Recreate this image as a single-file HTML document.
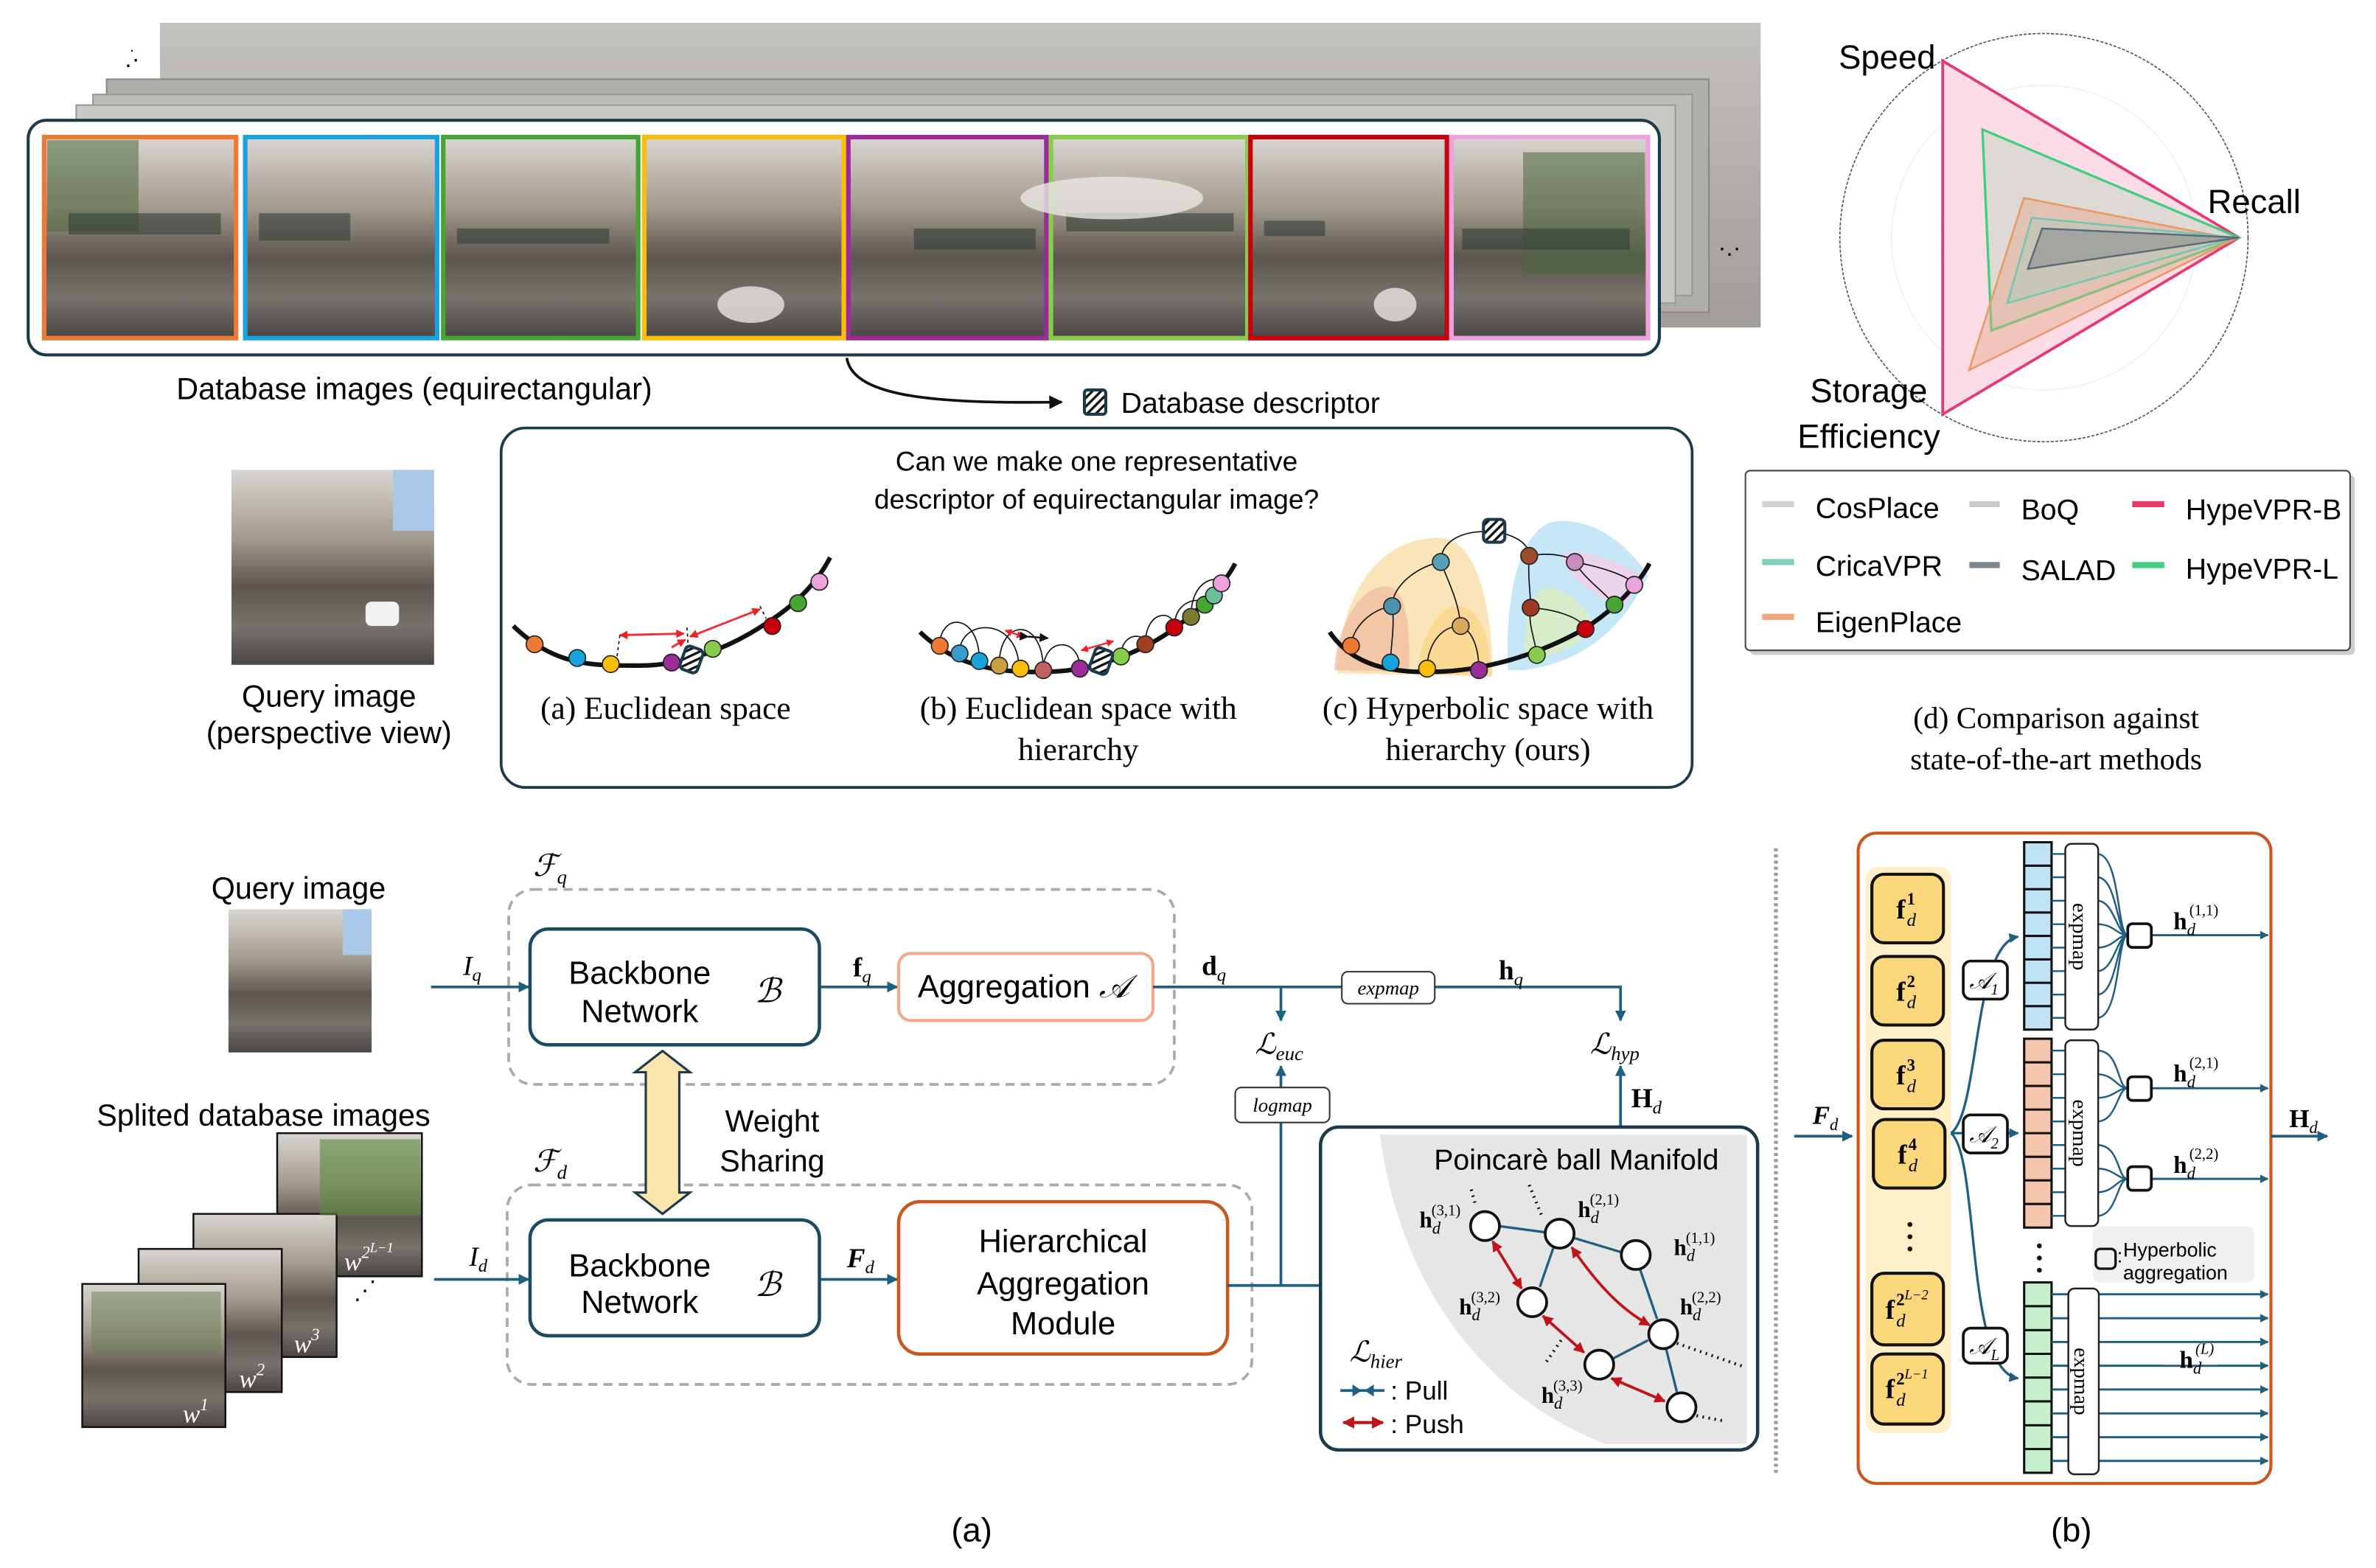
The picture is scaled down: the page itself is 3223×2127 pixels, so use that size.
<!DOCTYPE html>
<html><head><meta charset="utf-8"><style>
html,body{margin:0;padding:0;background:#fff;}
svg{display:block;}
text{font-family:"Liberation Sans",sans-serif;}
.s{font-family:"Liberation Serif",serif;}
</style></head><body>
<svg width="3223" height="2127" viewBox="0 0 1560 1029.5" xmlns="http://www.w3.org/2000/svg">
<defs>
<linearGradient id="ph" x1="0" y1="0" x2="0" y2="1">
<stop offset="0" stop-color="#d8d6d2"/><stop offset="0.35" stop-color="#a49a8e"/><stop offset="0.6" stop-color="#5d5650"/><stop offset="0.8" stop-color="#77726c"/><stop offset="1" stop-color="#4a4644"/></linearGradient>
<linearGradient id="bg" x1="0" y1="0" x2="0" y2="1"><stop offset="0" stop-color="#c4c2be"/><stop offset="1" stop-color="#a09c97"/></linearGradient>
<marker id="ab" viewBox="0 0 10 10" refX="9" refY="5" markerWidth="4" markerHeight="4" orient="auto"><path d="M0,0L10,5L0,10z" fill="#1f5f82"/></marker>
<marker id="ak" viewBox="0 0 10 10" refX="9" refY="5" markerWidth="5" markerHeight="5" orient="auto"><path d="M0,0L10,5L0,10z" fill="#111"/></marker>
<marker id="ar" viewBox="0 0 10 10" refX="9" refY="5" markerWidth="4" markerHeight="4" orient="auto-start-reverse"><path d="M0,0L10,5L0,10z" fill="#c0141b"/></marker>
<marker id="rr" viewBox="0 0 10 10" refX="9" refY="5" markerWidth="4" markerHeight="4" orient="auto-start-reverse"><path d="M0,0L10,5L0,10z" fill="#f02020"/></marker>
<pattern id="hat" width="4" height="4" patternUnits="userSpaceOnUse" patternTransform="rotate(45)"><rect width="4" height="4" fill="#fff"/><rect width="1.6" height="4" fill="#111"/></pattern>
</defs>

<!-- ===== TOP STRIP ===== -->
<rect x="105" y="15" width="1051" height="200" fill="url(#bg)"/>
<rect x="70" y="52" width="1052" height="153" fill="#b0aea9" stroke="#888" stroke-width="1"/>
<rect x="61" y="62" width="1050" height="132" fill="#bebcb8" stroke="#999" stroke-width="1"/>
<rect x="50" y="69" width="1050" height="130" fill="#cac8c4" stroke="#999" stroke-width="1"/>
<text x="82" y="44" font-size="16">.·</text><text x="85" y="36" font-size="10">·</text>
<text x="1128" y="168" font-size="16">·.·</text>
<rect x="18.5" y="79" width="1071" height="154" rx="12" fill="#fff" stroke="#1b3a4b" stroke-width="2"/>
<g stroke-width="3" fill="url(#ph)">
<rect x="29" y="90" width="126" height="132" stroke="#ec7a34"/>
<rect x="161" y="90" width="126" height="132" stroke="#18a3dc"/>
<rect x="291" y="90" width="128" height="132" stroke="#46a534"/>
<rect x="423" y="90" width="131" height="132" stroke="#f9be0a"/>
<rect x="557" y="90" width="130" height="132" stroke="#9a2b98"/>
<rect x="690" y="90" width="129" height="132" stroke="#88cc4c"/>
<rect x="821" y="90" width="129" height="132" stroke="#c8000a"/>
<rect x="953" y="90" width="129" height="132" stroke="#eba2dd"/>
</g>
<g fill="#4e6a3c" opacity="0.55"><rect x="31" y="92" width="60" height="60"/><rect x="1000" y="100" width="80" height="80"/></g>
<g fill="#2e3b36" opacity="0.55">
<rect x="45" y="140" width="100" height="14"/><rect x="170" y="140" width="60" height="18"/><rect x="300" y="150" width="100" height="10"/><rect x="600" y="150" width="80" height="14"/><rect x="700" y="140" width="110" height="12"/><rect x="830" y="145" width="40" height="10"/><rect x="960" y="150" width="110" height="14"/>
</g>
<g fill="#e8e6e2" opacity="0.8"><ellipse cx="493" cy="200" rx="22" ry="12"/><ellipse cx="916" cy="200" rx="14" ry="11"/><ellipse cx="730" cy="130" rx="60" ry="14"/></g>
<text x="272" y="262" font-size="20" text-anchor="middle">Database images (equirectangular)</text>
<path d="M556,235 C560,262 620,265 697,264" fill="none" stroke="#111" stroke-width="1.8" marker-end="url(#ak)"/>
<rect x="712" y="256" width="14" height="16" rx="2" fill="url(#hat)" stroke="#1b3a4b" stroke-width="2"/>
<text x="736" y="271" font-size="19">Database descriptor</text>

<!-- query image (top) -->
<rect x="152" y="308.5" width="133" height="128" fill="url(#ph)"/>
<rect x="258" y="308.5" width="27" height="40" fill="#aac8e8"/>
<rect x="240" y="395" width="22" height="16" rx="4" fill="#f2f2f2"/>
<text x="216" y="464" font-size="20" text-anchor="middle">Query image</text>
<text x="216" y="488" font-size="20" text-anchor="middle">(perspective view)</text>

<!-- ===== MIDDLE BOX ===== -->
<rect x="329" y="281" width="782" height="236" rx="16" fill="#fff" stroke="#1b3a4b" stroke-width="1.8"/>
<text x="720" y="309" font-size="18" text-anchor="middle">Can we make one representative</text>
<text x="720" y="334" font-size="18" text-anchor="middle">descriptor of equirectangular image?</text>
<g class="s" font-size="21" text-anchor="middle">
<text x="437" y="472" class="s">(a) Euclidean space</text>
<text x="708" y="472" class="s">(b) Euclidean space with</text>
<text x="708" y="499" class="s">hierarchy</text>
<text x="977" y="472" class="s">(c) Hyperbolic space with</text>
<text x="977" y="499" class="s">hierarchy (ours)</text>
</g>
<!-- (a) -->
<path d="M337,411 C365,438 390,437 420,437 C450,437 480,425 505,408 C525,395 538,380 545,366" fill="none" stroke="#111" stroke-width="3"/>
<g stroke="#f03030" stroke-width="1.4" fill="none">
<line x1="407" y1="417" x2="449" y2="416" marker-start="url(#rr)" marker-end="url(#rr)"/>
<line x1="453" y1="418" x2="499" y2="400" marker-start="url(#rr)" marker-end="url(#rr)"/>
<line x1="441" y1="425" x2="450" y2="420" marker-end="url(#rr)"/>
</g>
<g stroke="#111" stroke-width="0.8" stroke-dasharray="2,2"><line x1="407" y1="417" x2="405" y2="432"/><line x1="451" y1="412" x2="452" y2="426"/><line x1="499" y1="398" x2="503" y2="406"/></g>
<g stroke="#222" stroke-width="0.8">
<circle cx="351" cy="423" r="5.5" fill="#ec7a34"/><circle cx="379" cy="432" r="5.5" fill="#18a3dc"/><circle cx="401" cy="436" r="5.5" fill="#f9be0a"/><circle cx="441" cy="435" r="5.5" fill="#9a2b98"/>
<circle cx="468" cy="426" r="5.5" fill="#88cc4c"/><circle cx="507" cy="411" r="5.5" fill="#c8000a"/><circle cx="524" cy="396" r="5.5" fill="#46a534"/><circle cx="538" cy="382" r="5.5" fill="#eba2dd"/>
</g>
<rect x="448" y="425" width="12" height="16" rx="3" fill="url(#hat)" stroke="#1b3a4b" stroke-width="2" transform="rotate(20 454 433)"/>
<!-- (b) -->
<path d="M604,415 C630,440 660,442 690,441 C720,440 750,428 772,412 C790,398 803,385 811,370" fill="none" stroke="#111" stroke-width="3"/>
<g fill="none" stroke="#111" stroke-width="0.8">
<path d="M617,424 C617,402 643,402 643,434"/><path d="M630,429 C630,405 669,405 669,439"/><path d="M656,437 C656,405 685,405 685,440"/><path d="M685,440 C685,418 709,418 709,439"/>
<path d="M752,423 C752,400 771,400 771,412"/><path d="M771,412 C771,392 791,392 791,397"/><path d="M782,405 C782,378 802,378 802,383"/><path d="M736,431 C736,415 752,415 752,423"/>
</g>
<g stroke="#f03030" stroke-width="1.2"><line x1="660" y1="414" x2="672" y2="418" marker-start="url(#rr)" marker-end="url(#rr)"/><line x1="710" y1="427" x2="731" y2="421" marker-start="url(#rr)" marker-end="url(#rr)"/></g>
<line x1="675" y1="418" x2="688" y2="419" stroke="#111" stroke-width="1.2" marker-start="url(#ak)" marker-end="url(#ak)"/>
<g stroke="#222" stroke-width="0.8">
<circle cx="617" cy="424" r="5.5" fill="#ec7a34"/><circle cx="630" cy="429" r="5.5" fill="#3a9ccc"/><circle cx="643" cy="434" r="5.5" fill="#18a3dc"/><circle cx="656" cy="437" r="5.5" fill="#c9a040"/>
<circle cx="670" cy="439" r="5.5" fill="#f9be0a"/><circle cx="685" cy="440" r="5.5" fill="#c06060"/><circle cx="709" cy="439" r="5.5" fill="#9a2b98"/><circle cx="736" cy="431" r="5.5" fill="#88cc4c"/>
<circle cx="752" cy="423" r="5.5" fill="#a04020"/><circle cx="771" cy="412" r="5.5" fill="#c8000a"/><circle cx="782" cy="405" r="5.5" fill="#7a7a30"/><circle cx="791" cy="397" r="5.5" fill="#46a534"/><circle cx="797" cy="391" r="5.5" fill="#6abf9a"/><circle cx="802" cy="383" r="5.5" fill="#eba2dd"/>
</g>
<rect x="717" y="426" width="12" height="16" rx="3" fill="url(#hat)" stroke="#1b3a4b" stroke-width="2" transform="rotate(20 723 434)"/>
<!-- (c) -->
<path d="M878,442 C880,390 905,353 945,353 C970,353 980,400 980,444 Z" fill="#f7dfa6" opacity="0.8"/>
<path d="M876,440 C878,410 893,385 910,385 C925,385 926,420 925,441 Z" fill="#efb9a0" opacity="0.7"/>
<path d="M930,442 C933,420 943,398 957,398 C972,398 979,420 979,444 Z" fill="#fad78a" opacity="0.8"/>
<path d="M990,440 C988,390 998,342 1025,342 C1052,342 1072,362 1082,378 C1062,420 1032,436 1000,440 Z" fill="#bfe3f5" opacity="0.9"/>
<path d="M1001,432 C1000,410 1005,386 1015,386 C1030,386 1041,400 1048,410 C1036,425 1020,432 1001,432 Z" fill="#d7ecc8"/>
<path d="M1025,364 C1040,359 1062,369 1080,379 L1065,399 C1045,390 1030,380 1025,364 Z" fill="#ecd3ea"/>
<path d="M873,415 C890,440 920,442 945,441 C975,440 1010,430 1040,413 C1060,400 1075,385 1083,370" fill="none" stroke="#111" stroke-width="3"/>
<g fill="none" stroke="#111" stroke-width="0.8">
<path d="M975,349 C960,349 946,355 946,369"/><path d="M975,349 C990,349 1004,355 1004,365"/>
<path d="M946,369 C930,372 914,385 914,398"/><path d="M946,369 C950,380 958,395 959,411"/>
<path d="M914,398 C900,400 888,412 887,424"/><path d="M914,398 C916,410 913,425 913,435"/>
<path d="M959,411 C945,411 937,425 937,439"/><path d="M959,411 C968,415 971,428 971,440"/>
<path d="M1004,365 C1020,362 1032,366 1034,369"/><path d="M1004,365 C1003,380 1005,390 1005,399"/>
<path d="M1034,369 C1050,372 1070,378 1073,384"/><path d="M1034,369 C1040,380 1055,390 1060,397"/>
<path d="M1005,399 C1020,400 1038,405 1041,413"/><path d="M1005,399 C1003,410 1008,420 1009,430"/>
</g>
<g stroke="#222" stroke-width="0.8">
<circle cx="887" cy="424" r="5.5" fill="#ec7a34"/><circle cx="913" cy="435" r="5.5" fill="#18a3dc"/><circle cx="937" cy="439" r="5.5" fill="#f9be0a"/><circle cx="971" cy="440" r="5.5" fill="#9a2b98"/>
<circle cx="1009" cy="430" r="5.5" fill="#88cc4c"/><circle cx="1041" cy="413" r="5.5" fill="#c8000a"/><circle cx="1060" cy="397" r="5.5" fill="#46a534"/><circle cx="1073" cy="384" r="5.5" fill="#eba2dd"/>
<circle cx="914" cy="398" r="5.5" fill="#4f8fb0"/><circle cx="959" cy="411" r="5.5" fill="#d9a860"/><circle cx="946" cy="369" r="5.5" fill="#5a9fb8"/>
<circle cx="1005" cy="399" r="5.5" fill="#a03a20"/><circle cx="1004" cy="365" r="5.5" fill="#a04a30"/><circle cx="1034" cy="369" r="5.5" fill="#c98ac0"/>
</g>
<rect x="974" y="341" width="14" height="15" rx="3" fill="url(#hat)" stroke="#1b3a4b" stroke-width="2"/>

<!-- ===== RADAR ===== -->
<circle cx="1342" cy="156" r="134" fill="none" stroke="#555" stroke-width="0.8" stroke-dasharray="2,1"/>
<circle cx="1342" cy="156" r="100" fill="none" stroke="#eee" stroke-width="0.6"/>
<circle cx="1342" cy="156" r="66" fill="none" stroke="#eee" stroke-width="0.6"/>
<polygon points="1275.5,40 1470,156 1275.5,272" fill="#fbd3e0" fill-opacity="0.8" stroke="#e8386e" stroke-width="1.8"/>
<polygon points="1301.6,85 1470,156 1307.5,217" fill="#d9d8d2" fill-opacity="0.85" stroke="#3fcf7e" stroke-width="1.6"/>
<polygon points="1328.8,130 1467,157 1292.8,243" fill="#e6a98a" fill-opacity="0.45" stroke="#e89a68" stroke-width="1.3"/>
<polygon points="1334,143 1468,156 1318,199" fill="#a6c8bd" fill-opacity="0.4" stroke="#6cc8b2" stroke-width="1.2"/>
<polygon points="1340.8,150 1470,156 1331.4,176.5" fill="#8a9090" fill-opacity="0.6" stroke="#5b6b7a" stroke-width="1.2"/>
<text x="1239" y="45" font-size="22" text-anchor="middle">Speed</text>
<text x="1480" y="140" font-size="22" text-anchor="middle">Recall</text>
<text x="1227" y="264" font-size="22" text-anchor="middle">Storage</text>
<text x="1227" y="294" font-size="22" text-anchor="middle">Efficiency</text>
<rect x="1149" y="312" width="397" height="118" rx="3" fill="#aaa" opacity="0.6"/>
<rect x="1146" y="309" width="397" height="118" rx="3" fill="#fff" stroke="#444" stroke-width="1"/>
<g stroke-width="4">
<line x1="1157" y1="331" x2="1178" y2="331" stroke="#d2d5d2"/><line x1="1157" y1="369" x2="1178" y2="369" stroke="#7fcfbc"/><line x1="1157" y1="405" x2="1178" y2="405" stroke="#eeaa7e"/>
<line x1="1293" y1="331" x2="1313" y2="331" stroke="#c8cbc8"/><line x1="1293" y1="371" x2="1313" y2="371" stroke="#7d8792"/>
<line x1="1400" y1="331" x2="1421" y2="331" stroke="#e8386e"/><line x1="1400" y1="371" x2="1421" y2="371" stroke="#3fcf7e"/>
</g>
<g font-size="19">
<text x="1192" y="340">CosPlace</text><text x="1192" y="378">CricaVPR</text><text x="1192" y="415">EigenPlace</text>
<text x="1327" y="341">BoQ</text><text x="1327" y="381">SALAD</text>
<text x="1435" y="341">HypeVPR-B</text><text x="1435" y="380">HypeVPR-L</text>
</g>
<text x="1350" y="478" font-size="20" text-anchor="middle" class="s">(d) Comparison against</text>
<text x="1350" y="505" font-size="20" text-anchor="middle" class="s">state-of-the-art methods</text>

<!-- ===== BOTTOM (a) ===== -->
<text x="196" y="590" font-size="20" text-anchor="middle">Query image</text>
<rect x="150" y="597" width="94" height="94" fill="url(#ph)"/>
<rect x="225" y="597" width="19" height="30" fill="#aac8e8"/>
<text x="173" y="739" font-size="20" text-anchor="middle">Splited database images</text>
<g stroke="#111" stroke-width="1.2">
<rect x="182" y="744" width="95" height="94" fill="url(#ph)"/>
<rect x="127" y="797" width="94" height="94" fill="url(#ph)"/>
<rect x="91" y="820" width="94" height="94" fill="url(#ph)"/>
<rect x="54" y="843" width="94" height="94" fill="url(#ph)"/>
</g>
<rect x="210" y="748" width="66" height="50" fill="#5b8a3d" opacity="0.6"/>
<rect x="60" y="848" width="85" height="40" fill="#6a7f52" opacity="0.5"/>
<g font-family="Liberation Serif" font-style="italic" fill="#fff" font-size="17">
<text x="226" y="834" class="s">w<tspan font-size="11" dy="-8">2</tspan><tspan font-size="9" dy="-4">L−1</tspan></text>
<text x="193" y="888" class="s">w<tspan font-size="11" dy="-8">3</tspan></text>
<text x="157" y="911" class="s">w<tspan font-size="11" dy="-8">2</tspan></text>
<text x="120" y="934" class="s">w<tspan font-size="11" dy="-8">1</tspan></text>
</g>
<text x="232" y="858" font-size="16">·</text><text x="237" y="852" font-size="16">·</text><text x="242" y="846" font-size="16">·</text>

<!-- dashed groups -->
<rect x="334" y="584" width="437" height="128" rx="16" fill="none" stroke="#aaa" stroke-width="1.8" stroke-dasharray="6,4"/>
<rect x="333" y="778" width="489" height="131" rx="16" fill="none" stroke="#aaa" stroke-width="1.8" stroke-dasharray="6,4"/>
<text x="350" y="575" font-size="20" font-style="italic" class="s">ℱ<tspan font-size="13" dy="5">q</tspan></text>
<text x="350" y="769" font-size="20" font-style="italic" class="s">ℱ<tspan font-size="13" dy="5">d</tspan></text>

<g stroke="#1f5f82" stroke-width="1.8" fill="none">
<line x1="283" y1="648" x2="347" y2="648" marker-end="url(#ab)"/>
<line x1="538" y1="648" x2="589" y2="648" marker-end="url(#ab)"/>
<line x1="285" y1="840" x2="347" y2="840" marker-end="url(#ab)"/>
<line x1="538" y1="840" x2="589" y2="840" marker-end="url(#ab)"/>
</g>
<rect x="348" y="610" width="190" height="76" rx="12" fill="#fff" stroke="#1b4a63" stroke-width="2.2"/>
<rect x="348" y="801" width="190" height="76" rx="12" fill="#fff" stroke="#1b4a63" stroke-width="2.2"/>
<g font-size="21" text-anchor="middle">
<text x="420" y="646">Backbone</text><text x="420" y="671">Network</text>
<text x="420" y="838">Backbone</text><text x="420" y="862">Network</text>
</g>
<text x="504" y="658" font-size="22" font-style="italic" class="s" text-anchor="middle">ℬ</text>
<text x="504" y="851" font-size="22" font-style="italic" class="s" text-anchor="middle">ℬ</text>
<text x="304" y="640" font-size="18" font-style="italic" class="s">I<tspan font-size="12" dy="4">q</tspan></text>
<text x="308" y="831" font-size="18" font-style="italic" class="s">I<tspan font-size="12" dy="4">d</tspan></text>
<text x="560" y="641" font-size="18" font-weight="bold" class="s">f<tspan font-size="12" dy="4" font-style="italic" font-weight="normal">q</tspan></text>
<text x="556" y="832" font-size="18" font-weight="bold" font-style="italic" class="s">F<tspan font-size="12" dy="4" font-weight="normal">d</tspan></text>
<rect x="590" y="626" width="167" height="44" rx="8" fill="#fff" stroke="#f2a98a" stroke-width="2"/>
<text x="672" y="655" font-size="21" text-anchor="middle">Aggregation <tspan font-family="Liberation Serif" font-style="italic">𝒜</tspan></text>
<rect x="590" y="789" width="216" height="100" rx="14" fill="#fff" stroke="#c9571e" stroke-width="2.2"/>
<g font-size="21" text-anchor="middle"><text x="698" y="822">Hierarchical</text><text x="698" y="850">Aggregation</text><text x="698" y="876">Module</text></g>
<!-- weight sharing arrow -->
<path d="M435,690 L453,704 L446,704 L446,783 L453,783 L435,797 L417,783 L424,783 L424,704 L417,704 Z" fill="#fbe5ac" stroke="#1b3a4b" stroke-width="1.5"/>
<text x="507" y="743" font-size="20" text-anchor="middle">Weight</text>
<text x="507" y="769" font-size="20" text-anchor="middle">Sharing</text>

<!-- losses -->
<text x="789" y="640" font-size="18" font-weight="bold" class="s">d<tspan font-size="12" dy="4" font-style="italic" font-weight="normal">q</tspan></text>
<g stroke="#1f5f82" stroke-width="1.8" fill="none">
<line x1="757" y1="648" x2="881" y2="648"/>
<line x1="942" y1="648" x2="1064" y2="648"/>
<line x1="1064" y1="647" x2="1064" y2="670" marker-end="url(#ab)"/>
<line x1="841" y1="648" x2="841" y2="670" marker-end="url(#ab)"/>
<line x1="806" y1="844" x2="911" y2="844" marker-end="url(#ab)"/>
<line x1="841" y1="844" x2="841" y2="737"/>
<line x1="841" y1="714" x2="841" y2="700" marker-end="url(#ab)"/>
<line x1="1064" y1="740" x2="1064" y2="700" marker-end="url(#ab)"/>
</g>
<rect x="881" y="638" width="61" height="21" rx="4" fill="#fff" stroke="#333" stroke-width="1"/>
<text x="911.5" y="653" font-size="13" font-style="italic" class="s" text-anchor="middle">expmap</text>
<rect x="811" y="714" width="62" height="23" rx="4" fill="#fff" stroke="#333" stroke-width="1"/>
<text x="842" y="730" font-size="13" font-style="italic" class="s" text-anchor="middle">logmap</text>
<text x="984" y="643" font-size="18" font-weight="bold" class="s">h<tspan font-size="12" dy="4" font-style="italic" font-weight="normal">q</tspan></text>
<text x="824" y="692" font-size="19" font-style="italic" class="s">ℒ<tspan font-size="13" dy="4">euc</tspan></text>
<text x="1044" y="692" font-size="19" font-style="italic" class="s">ℒ<tspan font-size="13" dy="4">hyp</tspan></text>
<text x="1071" y="727" font-size="18" font-weight="bold" class="s">H<tspan font-size="12" dy="4" font-style="italic" font-weight="normal">d</tspan></text>
<text x="875" y="837" font-size="18" font-weight="bold" class="s">H<tspan font-size="12" dy="4" font-style="italic" font-weight="normal">d</tspan></text>

<!-- Poincare box -->
<rect x="867" y="740" width="287" height="212" rx="12" fill="#fff" stroke="#1b3a4b" stroke-width="2.2"/>
<path d="M906,745 L1147,745 L1147,948 L1054,948 C980,920 920,850 906,745 Z" fill="#e6e6e6"/>
<text x="1035" y="768" font-size="19" text-anchor="middle">Poincarè ball Manifold</text>
<g stroke="#111" stroke-width="2" stroke-dasharray="1,3" fill="none">
<line x1="966" y1="781" x2="969" y2="792"/><line x1="1004" y1="778" x2="1013" y2="800"/><line x1="1106" y1="928" x2="1132" y2="933"/><line x1="1101" y1="882" x2="1144" y2="897"/><line x1="1025" y1="880" x2="1014" y2="896"/>
</g>
<g stroke="#1f5f82" stroke-width="1.6" fill="none">
<line x1="984" y1="805" x2="1014" y2="809"/><line x1="1034" y1="813" x2="1064" y2="822"/>
<line x1="1020" y1="819" x2="1011" y2="845"/><line x1="1077" y1="834" x2="1088" y2="866"/>
<line x1="1082" y1="880" x2="1059" y2="892"/><line x1="1094" y1="886" x2="1101" y2="914"/>
</g>
<g stroke="#c0141b" stroke-width="1.8" fill="none">
<line x1="980" y1="815" x2="999" y2="846" marker-start="url(#ar)" marker-end="url(#ar)"/>
<path d="M1032,819 C1050,845 1065,860 1083,870" marker-start="url(#ar)" marker-end="url(#ar)"/>
<line x1="1013" y1="864" x2="1040" y2="888" marker-start="url(#ar)" marker-end="url(#ar)"/>
<line x1="1058" y1="905" x2="1093" y2="920" marker-start="url(#ar)" marker-end="url(#ar)"/>
</g>
<g fill="#fff" stroke="#111" stroke-width="1.8">
<circle cx="975" cy="805" r="9.5"/><circle cx="1024" cy="810" r="9.5"/><circle cx="1074" cy="824" r="9.5"/>
<circle cx="1006" cy="855" r="9.5"/><circle cx="1092" cy="876" r="9.5"/><circle cx="1050" cy="896" r="9.5"/><circle cx="1104" cy="924" r="9.5"/>
</g>
<g font-size="15" font-weight="bold" class="s">
<text x="932" y="806" class="s">h<tspan font-size="11" dy="4" font-style="italic" font-weight="normal">d</tspan><tspan font-size="10" dy="-12" dx="-6" font-weight="normal">(3,1)</tspan></text>
<text x="1036" y="799" class="s">h<tspan font-size="11" dy="4" font-style="italic" font-weight="normal">d</tspan><tspan font-size="10" dy="-12" dx="-6" font-weight="normal">(2,1)</tspan></text>
<text x="1099" y="824" class="s">h<tspan font-size="11" dy="4" font-style="italic" font-weight="normal">d</tspan><tspan font-size="10" dy="-12" dx="-6" font-weight="normal">(1,1)</tspan></text>
<text x="958" y="863" class="s">h<tspan font-size="11" dy="4" font-style="italic" font-weight="normal">d</tspan><tspan font-size="10" dy="-12" dx="-6" font-weight="normal">(3,2)</tspan></text>
<text x="1103" y="863" class="s">h<tspan font-size="11" dy="4" font-style="italic" font-weight="normal">d</tspan><tspan font-size="10" dy="-12" dx="-6" font-weight="normal">(2,2)</tspan></text>
<text x="1012" y="921" class="s">h<tspan font-size="11" dy="4" font-style="italic" font-weight="normal">d</tspan><tspan font-size="10" dy="-12" dx="-6" font-weight="normal">(3,3)</tspan></text>
</g>
<text x="886" y="894" font-size="19" font-style="italic" class="s">ℒ<tspan font-size="13" dy="4">hier</tspan></text>
<line x1="880" y1="913" x2="909" y2="913" stroke="#1f5f82" stroke-width="1.8"/>
<path d="M888,909 L894,913 L888,917Z M902,909 L896,913 L902,917Z" fill="#1f5f82"/>
<text x="913" y="919" font-size="17">: Pull</text>
<line x1="882" y1="934" x2="908" y2="934" stroke="#c0141b" stroke-width="2" marker-start="url(#ar)" marker-end="url(#ar)"/>
<text x="913" y="941" font-size="17">: Push</text>

<text x="638" y="1012" font-size="22" text-anchor="middle">(a)</text>

<!-- divider -->
<line x1="1166" y1="557" x2="1166" y2="968" stroke="#999" stroke-width="2.5" stroke-dasharray="2,2"/>

<!-- ===== (b) ===== -->
<rect x="1220" y="547" width="271" height="427" rx="12" fill="#fff" stroke="#c9571e" stroke-width="2"/>
<rect x="1225" y="569" width="56" height="372" rx="8" fill="#fdefc8"/>
<g fill="#f9d77a" stroke="#111" stroke-width="2">
<rect x="1229" y="574" width="47" height="45" rx="8"/><rect x="1229" y="628" width="47" height="45" rx="8"/><rect x="1229" y="683" width="47" height="45" rx="8"/><rect x="1230" y="735" width="47" height="45" rx="8"/>
<rect x="1229" y="836" width="47" height="47" rx="8"/><rect x="1229" y="889" width="47" height="46" rx="8"/>
</g>
<g font-size="18" font-weight="bold" class="s">
<text x="1245" y="603" class="s">f</text><text x="1245" y="657" class="s">f</text><text x="1245" y="712" class="s">f</text><text x="1246" y="764" class="s">f</text><text x="1238" y="866" class="s">f</text><text x="1238" y="918" class="s">f</text>
</g>
<g font-size="12" font-style="italic" class="s">
<text x="1252" y="608" class="s">d</text><text x="1252" y="662" class="s">d</text><text x="1252" y="717" class="s">d</text><text x="1253" y="769" class="s">d</text><text x="1245" y="871" class="s">d</text><text x="1245" y="923" class="s">d</text>
</g>
<g font-size="11" font-weight="bold" class="s">
<text x="1252" y="594" class="s">1</text><text x="1252" y="648" class="s">2</text><text x="1252" y="703" class="s">3</text><text x="1253" y="755" class="s">4</text>
<text x="1245" y="857" class="s">2<tspan font-size="9" dy="-4" font-style="italic" font-weight="normal">L−2</tspan></text>
<text x="1245" y="909" class="s">2<tspan font-size="9" dy="-4" font-style="italic" font-weight="normal">L−1</tspan></text>
</g>
<g fill="#111"><circle cx="1254" cy="804" r="1.6"/><circle cx="1254" cy="812" r="1.6"/><circle cx="1254" cy="820" r="1.6"/><circle cx="1339" cy="818" r="1.6"/><circle cx="1339" cy="826" r="1.6"/><circle cx="1339" cy="834" r="1.6"/></g>
<line x1="1178" y1="746" x2="1216" y2="746" stroke="#1f5f82" stroke-width="1.8" marker-end="url(#ab)"/>
<text x="1190" y="738" font-size="17" font-weight="bold" font-style="italic" class="s">F<tspan font-size="11" dy="4" font-weight="normal">d</tspan></text>
<line x1="1491" y1="746" x2="1528" y2="746" stroke="#1f5f82" stroke-width="1.8" marker-end="url(#ab)"/>
<text x="1503" y="740" font-size="17" font-weight="bold" class="s">H<tspan font-size="11" dy="4" font-style="italic" font-weight="normal">d</tspan></text>
<g stroke="#1f5f82" stroke-width="1.6" fill="none">
<path d="M1281,744 C1300,730 1295,620 1325,615" marker-end="url(#ab)"/>
<path d="M1281,744 L1325,744" marker-end="url(#ab)"/>
<path d="M1281,744 C1300,760 1290,900 1325,905" marker-end="url(#ab)"/>
</g>
<g fill="#fff" stroke="#111" stroke-width="1.8">
<rect x="1289" y="631" width="29" height="25" rx="5"/><rect x="1289" y="732" width="29" height="25" rx="5"/><rect x="1289" y="872" width="29" height="23" rx="5"/>
</g>
<g font-size="15" font-style="italic" class="s">
<text x="1293" y="649" class="s">𝒜<tspan font-size="10" dy="4">1</tspan></text>
<text x="1293" y="750" class="s">𝒜<tspan font-size="10" dy="4">2</tspan></text>
<text x="1293" y="889" class="s">𝒜<tspan font-size="10" dy="4">L</tspan></text>
</g>
<!-- columns -->
<g stroke="#111" stroke-width="1.5">
<rect x="1329" y="553" width="18" height="123" fill="#bfe3f3"/>
<rect x="1329" y="682" width="18" height="124" fill="#f5c5ad"/>
<rect x="1329" y="842" width="18" height="125" fill="#c6efcc"/>
<path d="M1329,568.4H1347M1329,583.8H1347M1329,599.1H1347M1329,614.5H1347M1329,629.9H1347M1329,645.3H1347M1329,660.6H1347"/>
<path d="M1329,697.5H1347M1329,713H1347M1329,728.5H1347M1329,744H1347M1329,759.5H1347M1329,775H1347M1329,790.5H1347"/>
<path d="M1329,857.6H1347M1329,873.3H1347M1329,888.9H1347M1329,904.5H1347M1329,920.1H1347M1329,935.8H1347M1329,951.4H1347"/>
</g>
<g stroke="#1f5f82" stroke-width="1.2" fill="none">
<path d="M1347,560.7H1356M1347,576H1356M1347,591.4H1356M1347,606.8H1356M1347,622.2H1356M1347,637.6H1356M1347,653H1356M1347,668.3H1356"/>
<path d="M1347,689.8H1356M1347,705.3H1356M1347,720.8H1356M1347,736.3H1356M1347,751.8H1356M1347,767.3H1356M1347,782.8H1356M1347,798.3H1356"/>
<path d="M1377,560.7C1392,560.7 1390,614 1397,614M1377,576C1390,576 1390,614 1397,614M1377,591.4C1388,591.4 1390,614 1397,614M1377,606.8C1388,606.8 1390,614 1397,614M1377,622.2C1388,622.2 1390,614 1397,614M1377,637.6C1388,637.6 1390,614 1397,614M1377,653C1390,653 1390,614 1397,614M1377,668.3C1392,668.3 1390,614 1397,614"/>
<path d="M1377,689.8C1392,689.8 1390,714.5 1397,714.5M1377,705.3C1388,705.3 1390,714.5 1397,714.5M1377,720.8C1388,720.8 1390,714.5 1397,714.5M1377,736.3C1390,736.3 1390,714.5 1397,714.5"/>
<path d="M1377,751.8C1392,751.8 1390,774 1397,774M1377,767.3C1388,767.3 1390,774 1397,774M1377,782.8C1388,782.8 1390,774 1397,774M1377,798.3C1390,798.3 1390,774 1397,774"/>
</g>
<g stroke="#1f5f82" stroke-width="1.4" fill="none">
<line x1="1347" y1="849.8" x2="1489" y2="849.8" marker-end="url(#ab)"/><line x1="1347" y1="865.5" x2="1489" y2="865.5" marker-end="url(#ab)"/>
<line x1="1347" y1="881.1" x2="1489" y2="881.1" marker-end="url(#ab)"/><line x1="1347" y1="896.7" x2="1489" y2="896.7" marker-end="url(#ab)"/>
<line x1="1347" y1="912.3" x2="1489" y2="912.3" marker-end="url(#ab)"/><line x1="1347" y1="928" x2="1489" y2="928" marker-end="url(#ab)"/>
<line x1="1347" y1="943.6" x2="1489" y2="943.6" marker-end="url(#ab)"/><line x1="1347" y1="959.2" x2="1489" y2="959.2" marker-end="url(#ab)"/>
<line x1="1413" y1="614" x2="1489" y2="614" marker-end="url(#ab)"/>
<line x1="1413" y1="714.5" x2="1489" y2="714.5" marker-end="url(#ab)"/>
<line x1="1413" y1="774" x2="1489" y2="774" marker-end="url(#ab)"/>
</g>
<g fill="#fff" stroke="#222" stroke-width="1.2">
<rect x="1356" y="554" width="21.6" height="122" rx="4"/><rect x="1356" y="683" width="21.6" height="122" rx="4"/><rect x="1358" y="846" width="20" height="122" rx="4"/>
</g>
<g font-size="14" class="s">
<text transform="translate(1361,615) rotate(90)" text-anchor="middle" class="s">expmap</text>
<text transform="translate(1361,744) rotate(90)" text-anchor="middle" class="s">expmap</text>
<text transform="translate(1362,907) rotate(90)" text-anchor="middle" class="s">expmap</text>
</g>
<g fill="#fff" stroke="#111" stroke-width="1.8">
<rect x="1397" y="606.5" width="15.5" height="15.5" rx="3"/><rect x="1397" y="707" width="15.5" height="15.5" rx="3"/><rect x="1397" y="766" width="15.5" height="15.5" rx="3"/>
</g>
<rect x="1374" y="805" width="106" height="37" rx="5" fill="#efefef"/>
<rect x="1376" y="820" width="13" height="13" rx="3" fill="none" stroke="#111" stroke-width="1.6"/>
<text x="1390" y="829" font-size="13">:</text>
<text x="1394" y="825" font-size="13">Hyperbolic</text>
<text x="1394" y="840" font-size="13">aggregation</text>
<rect x="1420" y="882" width="36" height="14" fill="#fff"/>
<g font-size="16" font-weight="bold" class="s">
<text x="1427" y="610" class="s">h<tspan font-size="11" dy="4" font-style="italic" font-weight="normal">d</tspan><tspan font-size="10" dy="-13" dx="-4" font-weight="normal">(1,1)</tspan></text>
<text x="1427" y="710" class="s">h<tspan font-size="11" dy="4" font-style="italic" font-weight="normal">d</tspan><tspan font-size="10" dy="-13" dx="-4" font-weight="normal">(2,1)</tspan></text>
<text x="1427" y="770" class="s">h<tspan font-size="11" dy="4" font-style="italic" font-weight="normal">d</tspan><tspan font-size="10" dy="-13" dx="-4" font-weight="normal">(2,2)</tspan></text>
<text x="1431" y="898" class="s">h<tspan font-size="11" dy="4" font-style="italic" font-weight="normal">d</tspan><tspan font-size="10" dy="-13" dx="-4" font-style="italic" font-weight="normal">(L)</tspan></text>
</g>
<text x="1360" y="1012" font-size="22" text-anchor="middle">(b)</text>
</svg>
</body></html>
